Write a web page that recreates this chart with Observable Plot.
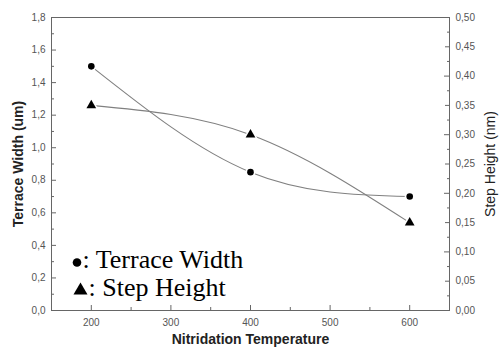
<!DOCTYPE html>
<html>
<head>
<meta charset="utf-8">
<script src="https://cdn.jsdelivr.net/npm/d3@7"></script>
<script src="https://cdn.jsdelivr.net/npm/@observablehq/plot@0.6"></script>
<style>
  html, body { margin: 0; padding: 0; background: #fff; }
  #chart svg { font-family: "Liberation Sans", Arial, sans-serif; }
</style>
</head>
<body>
<div id="chart"></div>
<script>
// Nitridation temperature series
const temperatures = [200, 400, 600];
const terraceWidth = [1.5, 0.85, 0.70];   // um, left axis
const stepHeight = [0.35, 0.30, 0.15];    // nm, right axis

// Axis ticks
const xTicks = [200, 300, 400, 500, 600];
const xMinorTicks = [150, 250, 350, 450, 550, 650];
const leftTicks = [0, 0.2, 0.4, 0.6, 0.8, 1.0, 1.2, 1.4, 1.6, 1.8];
const leftMinorTicks = [0.1, 0.3, 0.5, 0.7, 0.9, 1.1, 1.3, 1.5, 1.7];
const rightTicks = [0, 0.05, 0.10, 0.15, 0.20, 0.25, 0.30, 0.35, 0.40, 0.45, 0.50];
const rightMinorTicks = [0.025, 0.075, 0.125, 0.175, 0.225, 0.275, 0.325, 0.375, 0.425, 0.475];

// Legend entries
const legendLabels = [": Terrace Width", ": Step Height"];

// Right axis (nm) mapped onto the left axis (um) range
const leftMax = 1.8, rightMax = 0.5;
const k = leftMax / rightMax;

const tw = temperatures.map((t, i) => ({t, v: terraceWidth[i]}));
const sh = temperatures.map((t, i) => ({t, v: stepHeight[i] * k}));

const W = 500, H = 350;
const mL = 51, mR = 51, mT = 17, mB = 40;
const innerW = W - mL - mR, innerH = H - mT - mB;

const comma = (d, n) => d.toFixed(n).replace(".", ",");
const axisGrey = "#555";
const lineGrey = "#808080";
const frameGrey = "#666";
const serif = "Liberation Serif, Times New Roman, serif";

// Inward tick helpers
const yTicksLeft = (vals, len) => Plot.tickY(vals, {y: d => d, stroke: frameGrey, insetRight: innerW - len});
const yTicksRight = (vals, len) => Plot.tickY(vals, {y: d => d, stroke: frameGrey, insetLeft: innerW - len});
const xTicksBottom = (vals, len) => Plot.tickX(vals, {x: d => d, stroke: frameGrey, insetTop: innerH - len});

const chart = Plot.plot({
  width: W,
  height: H,
  marginLeft: mL,
  marginRight: mR,
  marginTop: mT,
  marginBottom: mB,
  x: {domain: [150, 650], axis: null},
  y: {domain: [0, leftMax], axis: null},
  marks: [
    // ticks pointing into the frame
    yTicksLeft(leftTicks, 5),
    yTicksLeft(leftMinorTicks, 3),
    yTicksRight(rightTicks.filter((d, i) => i % 2 === 0).map(d => d * k), 5),
    yTicksRight(rightTicks.filter((d, i) => i % 2 === 1).map(d => d * k), 4),
    yTicksRight(rightMinorTicks.map(d => d * k), 2),
    xTicksBottom(xTicks, 5),
    xTicksBottom(xMinorTicks, 3),

    // tick labels
    Plot.axisX(xTicks, {tickSize: 0, tickPadding: 8, fontSize: 10, fill: axisGrey, label: null}),
    Plot.axisY(leftTicks, {anchor: "left", tickSize: 0, tickPadding: 6, fontSize: 10, fill: axisGrey,
      tickFormat: d => comma(d, 1), label: null}),
    Plot.axisY(rightTicks.map(d => d * k), {anchor: "right", tickSize: 0, tickPadding: 6, fontSize: 10, fill: axisGrey,
      tickFormat: d => comma(d / k, 2), label: null}),

    // axis titles
    Plot.text(["Terrace Width (um)"], {text: d => d, frameAnchor: "left", textAnchor: "middle", rotate: -90, dx: -33,
      fontSize: 14, fontWeight: "bold", fill: "#222"}),
    Plot.text(["Step Height (nm)"], {text: d => d, frameAnchor: "right", textAnchor: "middle", rotate: -90, dx: 41,
      fontSize: 14, fill: "#222"}),
    Plot.text(["Nitridation Temperature"], {text: d => d, frameAnchor: "bottom", textAnchor: "middle", dy: 33,
      fontSize: 14, fontWeight: "bold", fill: "#222"}),

    Plot.frame({stroke: frameGrey}),

    // smoothed curves through the measurements
    Plot.line(tw, {x: "t", y: "v", curve: "natural", stroke: lineGrey, strokeWidth: 1.1}),
    Plot.line(sh, {x: "t", y: "v", curve: "natural", stroke: lineGrey, strokeWidth: 1.1}),

    // white halo leaves a small gap between curve and marker
    Plot.dot(tw, {x: "t", y: "v", r: 5, fill: "white"}),
    Plot.dot(sh, {x: "t", y: "v", r: 5.5, symbol: "triangle", fill: "white"}),
    Plot.dot(tw, {x: "t", y: "v", r: 3.3, fill: "black"}),
    Plot.dot(sh, {x: "t", y: "v", r: 3.6, symbol: "triangle", fill: "black"}),

    // in-plot legend: symbol + label
    Plot.dot([0], {frameAnchor: "top-left", dx: 25.5, dy: 245, r: 4.3, fill: "black"}),
    Plot.dot([0], {frameAnchor: "top-left", dx: 29, dy: 273, r: 5.2, symbol: "triangle", fill: "black"}),
    Plot.text([legendLabels[0]], {text: d => d, frameAnchor: "top-left", textAnchor: "start", lineAnchor: "bottom",
      dx: 31, dy: 250, fontSize: 26, fontFamily: serif, fill: "black"}),
    Plot.text([legendLabels[1]], {text: d => d, frameAnchor: "top-left", textAnchor: "start", lineAnchor: "bottom",
      dx: 37, dy: 278, fontSize: 26, fontFamily: serif, fill: "black"})
  ]
});

document.getElementById("chart").appendChild(chart);
</script>
</body>
</html>
